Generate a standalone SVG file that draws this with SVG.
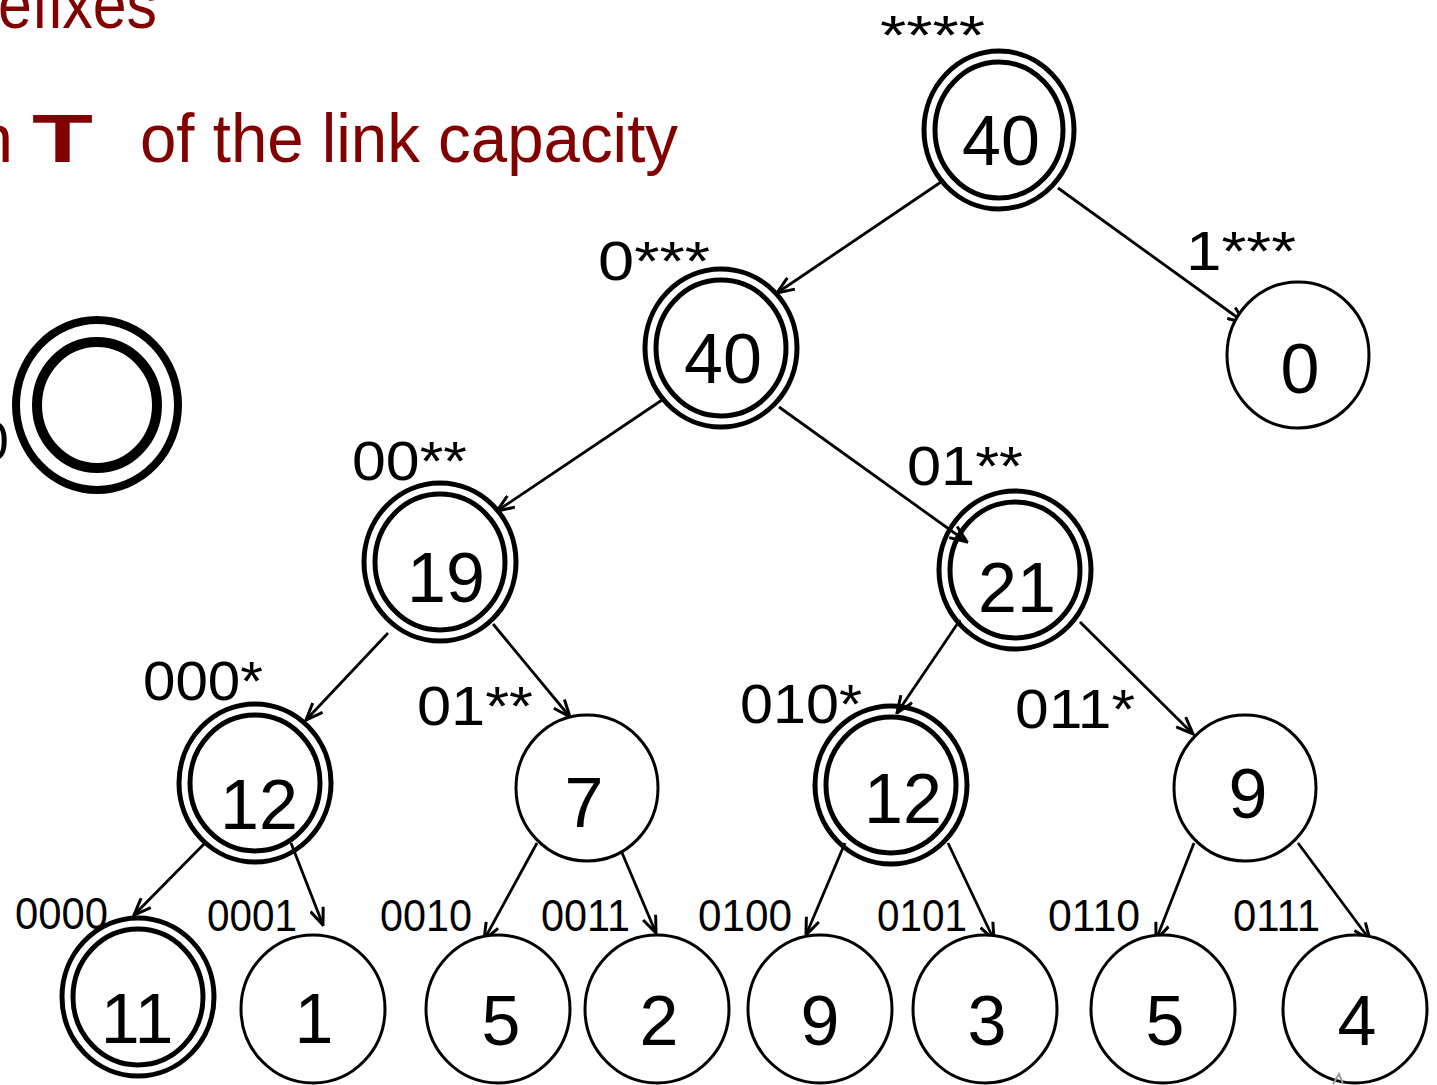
<svg xmlns="http://www.w3.org/2000/svg" width="1437" height="1085" viewBox="0 0 1437 1085">
  <style>
    .title { font-family: "Liberation Sans", Arial, sans-serif; fill: #820000; font-size: 68px; }
    .num { font-family: "Liberation Sans", Arial, sans-serif; font-size: 70px; fill: #000; text-anchor: middle; }
    .lbl { font-family: "Liberation Sans", Arial, sans-serif; font-size: 56px; fill: #000; }
    .sml { font-family: "Liberation Sans", Arial, sans-serif; font-size: 44px; fill: #000; }
    .ring { fill: none; stroke: #000; stroke-width: 5; }
    .one { fill: #fff; stroke: #000; stroke-width: 3; }
    .edge { fill: none; stroke: #000; stroke-width: 2.8; marker-end: url(#tip); }
  </style>
  <defs>
    <marker id="tip" viewBox="0 0 20 16" refX="18.5" refY="8" markerWidth="20" markerHeight="16" markerUnits="userSpaceOnUse" orient="auto">
      <path d="M1.5,1.2 L18.5,8 L1.5,14.8" fill="none" stroke="#000" stroke-width="3"/>
    </marker>
  </defs>
  <rect width="1437" height="1085" fill="#fff"/>

  <!-- heading fragments -->
  <g id="heading">
    <text class="title" x="-2" y="28" textLength="159" lengthAdjust="spacingAndGlyphs">efixes</text>
    <text class="title" x="13" y="162" text-anchor="end">n</text>
    <text class="title" x="32" y="162" font-weight="bold" font-size="69" textLength="61" lengthAdjust="spacingAndGlyphs">T</text>
    <text class="title" x="140" y="162" textLength="538" lengthAdjust="spacingAndGlyphs">of the link capacity</text>
  </g>

  <!-- legend symbol -->
  <g id="legend">
    <text class="lbl" x="9" y="460" text-anchor="end" font-size="54">0</text>
    <ellipse cx="97" cy="405" rx="81" ry="85" fill="none" stroke="#000" stroke-width="8"/>
    <ellipse cx="97" cy="405" rx="60" ry="63" fill="none" stroke="#000" stroke-width="10"/>
  </g>

  <!-- connectors -->
  <g id="connectors">
    <line class="edge" x1="944" y1="180" x2="777" y2="293"/>
    <line class="edge" x1="1058" y1="188" x2="1245" y2="323"/>
    <line class="edge" x1="665" y1="398" x2="497" y2="511"/>
    <line class="edge" x1="779" y1="407" x2="967" y2="542"/>
    <line class="edge" x1="388" y1="633" x2="306" y2="720"/>
    <line class="edge" x1="493" y1="624" x2="570" y2="717"/>
    <line class="edge" x1="960" y1="620" x2="897" y2="713"/>
    <line class="edge" x1="1080" y1="622" x2="1193" y2="734"/>
    <line class="edge" x1="205" y1="843" x2="134" y2="915"/>
    <line class="edge" x1="291" y1="843" x2="323" y2="925"/>
    <line class="edge" x1="537" y1="843" x2="484" y2="940"/>
    <line class="edge" x1="620" y1="848" x2="656" y2="933"/>
    <line class="edge" x1="845" y1="843" x2="806" y2="935"/>
    <line class="edge" x1="948" y1="843" x2="994" y2="940"/>
    <line class="edge" x1="1194" y1="843" x2="1156" y2="940"/>
    <line class="edge" x1="1298" y1="843" x2="1370" y2="940"/>
  </g>

  <!-- level 0 -->
  <g id="n-root">
    <ellipse class="ring" cx="999" cy="130" rx="75" ry="79"/>
    <ellipse class="ring" cx="999" cy="130" rx="64" ry="68"/>
    <text class="num" x="1001" y="165">40</text>
    <text class="lbl" x="880" y="54" textLength="105" lengthAdjust="spacingAndGlyphs">****</text>
  </g>

  <!-- level 1 -->
  <g id="n-0">
    <ellipse class="ring" cx="721" cy="348" rx="76" ry="79"/>
    <ellipse class="ring" cx="721" cy="348" rx="65" ry="68"/>
    <text class="num" x="723" y="383">40</text>
    <text class="lbl" x="598" y="280" textLength="112" lengthAdjust="spacingAndGlyphs">0***</text>
  </g>
  <g id="n-1">
    <ellipse class="one" cx="1298" cy="355" rx="71" ry="73"/>
    <text class="num" x="1300" y="393">0</text>
    <text class="lbl" x="1186" y="270" textLength="110" lengthAdjust="spacingAndGlyphs">1***</text>
  </g>

  <!-- level 2 -->
  <g id="n-00">
    <ellipse class="ring" cx="440" cy="562" rx="76" ry="79"/>
    <ellipse class="ring" cx="440" cy="562" rx="65" ry="68"/>
    <text class="num" x="446" y="602">19</text>
    <text class="lbl" x="352" y="480" textLength="115" lengthAdjust="spacingAndGlyphs">00**</text>
  </g>
  <g id="n-01">
    <ellipse class="ring" cx="1015" cy="570" rx="76" ry="79"/>
    <ellipse class="ring" cx="1015" cy="570" rx="65" ry="68"/>
    <text class="num" x="1017" y="612">21</text>
    <text class="lbl" x="907" y="485" textLength="116" lengthAdjust="spacingAndGlyphs">01**</text>
  </g>

  <!-- level 3 -->
  <g id="n-000">
    <ellipse class="ring" cx="255" cy="783" rx="76" ry="79"/>
    <ellipse class="ring" cx="255" cy="783" rx="65" ry="68"/>
    <text class="num" x="259" y="829">12</text>
    <text class="lbl" x="143" y="700" textLength="120" lengthAdjust="spacingAndGlyphs">000*</text>
  </g>
  <g id="n-001">
    <ellipse class="one" cx="587" cy="788" rx="71" ry="73"/>
    <text class="num" x="584" y="827">7</text>
    <text class="lbl" x="417" y="725" textLength="116" lengthAdjust="spacingAndGlyphs">01**</text>
  </g>
  <g id="n-010">
    <ellipse class="ring" cx="891" cy="785" rx="76" ry="79"/>
    <ellipse class="ring" cx="891" cy="785" rx="65" ry="68"/>
    <text class="num" x="903" y="823">12</text>
    <text class="lbl" x="740" y="723" textLength="122" lengthAdjust="spacingAndGlyphs">010*</text>
  </g>
  <g id="n-011">
    <ellipse class="one" cx="1245" cy="788" rx="71" ry="73"/>
    <text class="num" x="1248" y="818">9</text>
    <text class="lbl" x="1015" y="728" textLength="120" lengthAdjust="spacingAndGlyphs">011*</text>
  </g>

  <!-- level 4 (leaves) -->
  <g id="n-0000">
    <ellipse class="ring" cx="138" cy="997" rx="76" ry="79"/>
    <ellipse class="ring" cx="138" cy="997" rx="65" ry="68"/>
    <text class="num" x="137" y="1043">11</text>
    <text class="sml" x="15" y="929" textLength="93" lengthAdjust="spacingAndGlyphs">0000</text>
  </g>
  <g id="n-0001">
    <ellipse class="one" cx="313" cy="1009" rx="72" ry="74"/>
    <text class="num" x="314" y="1043">1</text>
    <text class="sml" x="207" y="931" textLength="90" lengthAdjust="spacingAndGlyphs">0001</text>
  </g>
  <g id="n-0010">
    <ellipse class="one" cx="498" cy="1009" rx="72" ry="74"/>
    <text class="num" x="501" y="1045">5</text>
    <text class="sml" x="380" y="931" textLength="92" lengthAdjust="spacingAndGlyphs">0010</text>
  </g>
  <g id="n-0011">
    <ellipse class="one" cx="657" cy="1009" rx="72" ry="74"/>
    <text class="num" x="659" y="1045">2</text>
    <text class="sml" x="541" y="931" textLength="89" lengthAdjust="spacingAndGlyphs">0011</text>
  </g>
  <g id="n-0100">
    <ellipse class="one" cx="820" cy="1009" rx="72" ry="74"/>
    <text class="num" x="820" y="1045">9</text>
    <text class="sml" x="698" y="931" textLength="94" lengthAdjust="spacingAndGlyphs">0100</text>
  </g>
  <g id="n-0101">
    <ellipse class="one" cx="985" cy="1009" rx="72" ry="74"/>
    <text class="num" x="987" y="1045">3</text>
    <text class="sml" x="877" y="931" textLength="90" lengthAdjust="spacingAndGlyphs">0101</text>
  </g>
  <g id="n-0110">
    <ellipse class="one" cx="1163" cy="1009" rx="72" ry="74"/>
    <text class="num" x="1165" y="1045">5</text>
    <text class="sml" x="1048" y="931" textLength="92" lengthAdjust="spacingAndGlyphs">0110</text>
  </g>
  <g id="n-0111">
    <ellipse class="one" cx="1355" cy="1009" rx="72" ry="74"/>
    <text class="num" x="1357" y="1045">4</text>
    <text class="sml" x="1233" y="931" textLength="87" lengthAdjust="spacingAndGlyphs">0111</text>
  </g>

  <!-- small grey mark under the last leaf -->
  <path d="M1333,1084 L1339,1074 L1343,1084" fill="none" stroke="#9a9a9a" stroke-width="2"/>
</svg>
